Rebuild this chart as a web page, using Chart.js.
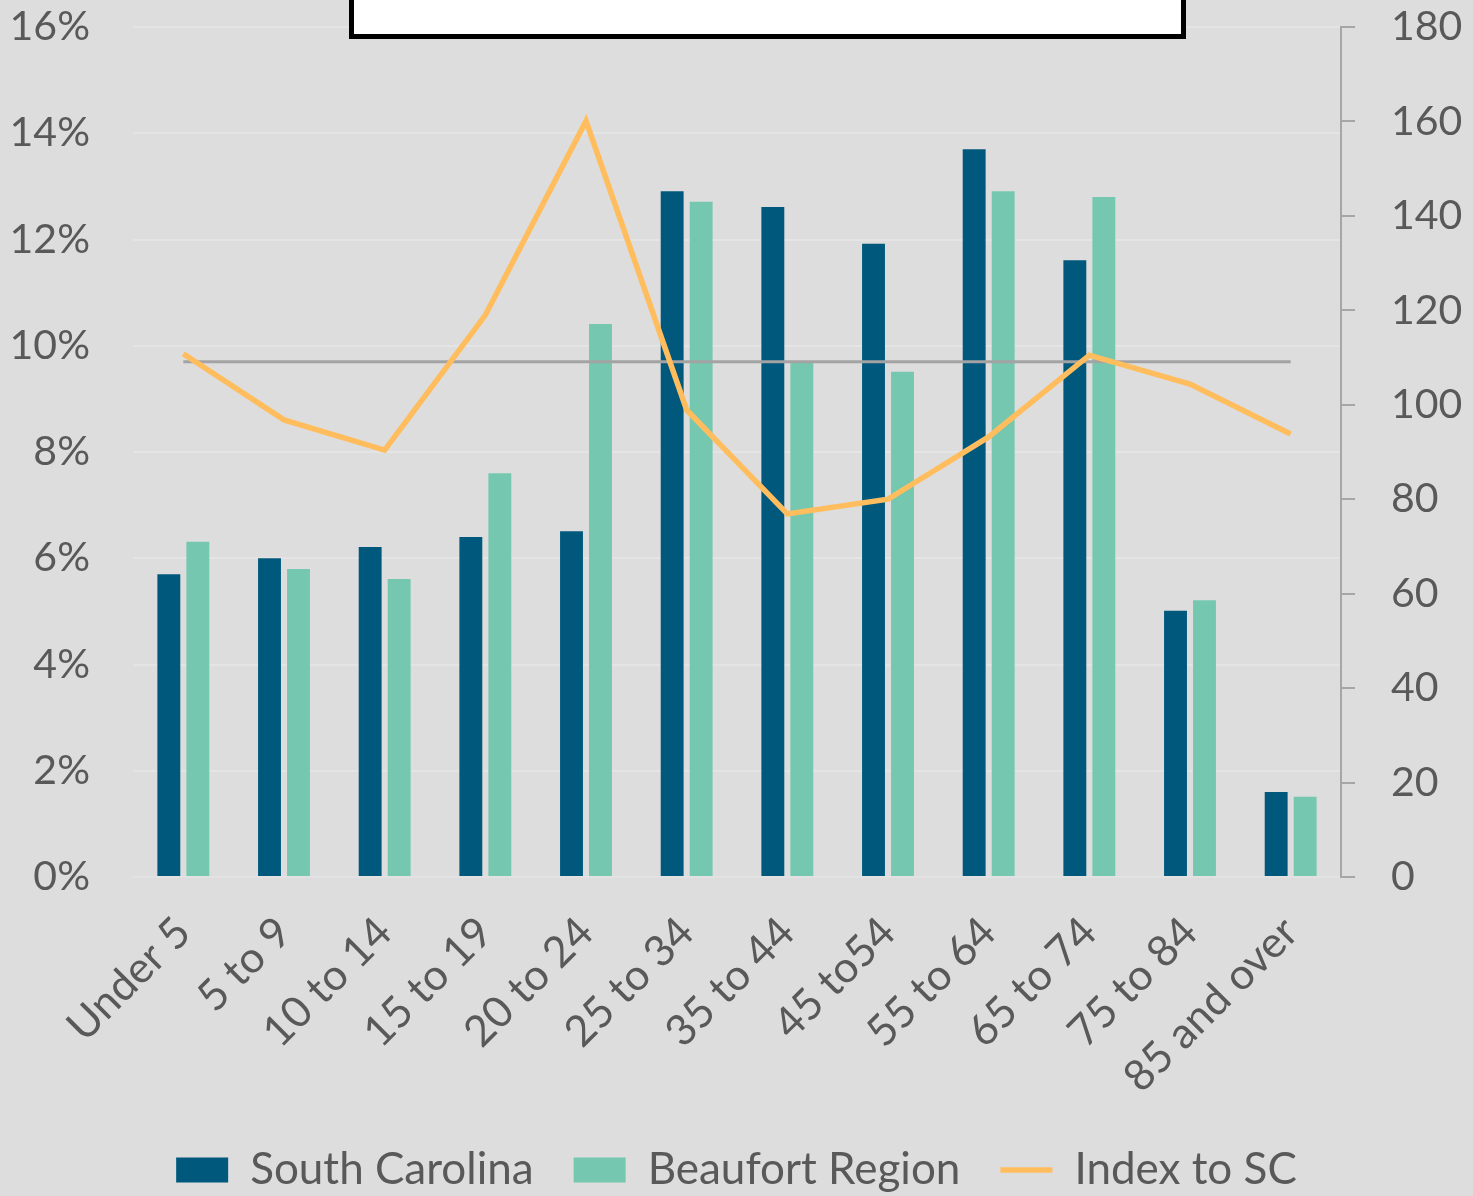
<!DOCTYPE html>
<html>
<head>
<meta charset="utf-8">
<script src="https://cdn.jsdelivr.net/npm/chart.js@4.4.1/dist/chart.umd.min.js"></script>
<style>
  html, body { margin: 0; padding: 0; background: #dddddd; }
  #wrap { position: relative; width: 1473px; height: 1196px; overflow: hidden; }
  #titleBox {
    position: absolute; left: 349px; top: -12px; width: 827px; height: 41px;
    background: #fff; border: 5px solid #000;
  }
</style>
</head>
<body>
<div id="wrap">
  <canvas id="Chart1" width="1473" height="1196"></canvas>
  <div id="titleBox"></div>
</div>
<script>
var categories = ['Under 5', '5 to 9', '10 to 14', '15 to 19', '20 to 24', '25 to 34',
  '35 to 44', '45 to54', '55 to 64', '65 to 74', '75 to 84', '85 and over'];

// percent of population
var southCarolina = [5.70, 6.00, 6.21, 6.40, 6.51, 12.91, 12.61, 11.92, 13.70, 11.61, 5.01, 1.60];
var beaufortRegion = [6.31, 5.80, 5.61, 7.60, 10.41, 12.71, 9.69, 9.51, 12.91, 12.80, 5.21, 1.51];

// index, right axis
var indexToSC = [110.8, 96.8, 90.4, 119.0, 160.1, 98.9, 76.9, 80.0, 93.2, 110.5, 104.4, 93.8];

// grey reference line, left axis
var referenceLine = [9.7, 9.7, 9.7, 9.7, 9.7, 9.7, 9.7, 9.7, 9.7, 9.7, 9.7, 9.7];

var leftTicks = { min: 0, max: 16, step: 2 };
var rightTicks = { min: 0, max: 180, step: 20 };

var textColor = '#595959';
var fontFamily = 'Lato, "Open Sans", sans-serif';

// keep the plot area exactly where the axes are asked to be
const noPad = (scale) => { scale.paddingTop = 0; scale.paddingBottom = 0; };

const createChart1 = () => {
  var ctx = document.getElementById('Chart1');
  var Chart1 = new Chart(ctx, {
    type: 'bar',
    data: {
      labels: categories,
      datasets: [{
        label: 'South Carolina',
        data: southCarolina,
        backgroundColor: '#00597c',
        yAxisID: 'y',
        order: 4,
        pointStyle: 'rect',
        categoryPercentage: 0.576,
        barPercentage: 0.79
      }, {
        label: 'Beaufort Region',
        data: beaufortRegion,
        backgroundColor: '#75c8af',
        yAxisID: 'y',
        order: 5,
        pointStyle: 'rect',
        categoryPercentage: 0.576,
        barPercentage: 0.79
      }, {
        type: 'line',
        label: 'Index to SC',
        data: indexToSC,
        borderColor: '#ffbd5e',
        backgroundColor: '#ffbd5e',
        borderWidth: 5.5,
        pointRadius: 0,
        tension: 0,
        yAxisID: 'y1',
        order: 1,
        pointStyle: 'line'
      }, {
        type: 'line',
        label: 'ref',
        data: referenceLine,
        borderColor: '#a3a3a3',
        borderWidth: 3,
        pointRadius: 0,
        yAxisID: 'y',
        order: 2
      }]
    },
    options: {
      responsive: false,
      animation: false,
      layout: { padding: { top: 27, left: 0, right: 0, bottom: -6 } },
      plugins: {
        tooltip: { enabled: false },
        legend: {
          position: 'bottom',
          labels: {
            usePointStyle: true,
            pointStyleWidth: 52,
            boxWidth: 52,
            boxHeight: 25,
            color: textColor,
            padding: 40,
            font: { family: fontFamily, size: 44 },
            filter: (item) => item.text !== 'ref',
            sort: (a, b) => a.datasetIndex - b.datasetIndex
          }
        }
      },
      scales: {
        x: {
          grid: { display: false },
          border: { display: true, color: '#e2e2e2', width: 2 },
          ticks: {
            color: textColor,
            font: { family: fontFamily, size: 43 },
            minRotation: 45,
            maxRotation: 45,
            padding: 22,
            autoSkip: false
          },
          afterFit: (scale) => { scale.height = 231; }
        },
        y: {
          position: 'left',
          min: leftTicks.min,
          max: leftTicks.max,
          grid: { color: '#e4e4e4', lineWidth: 2, drawTicks: false },
          border: { display: false },
          ticks: {
            stepSize: leftTicks.step,
            color: textColor,
            padding: 43,
            font: { family: fontFamily, size: 41 },
            callback: (v) => v + '%'
          },
          afterFit: (scale) => { scale.width = 133; noPad(scale); }
        },
        y1: {
          position: 'right',
          min: rightTicks.min,
          max: rightTicks.max,
          grid: { drawOnChartArea: false, drawTicks: true, tickLength: 14, color: '#a6a6a6', lineWidth: 2 },
          border: { display: true, color: '#a6a6a6', width: 2 },
          ticks: {
            stepSize: rightTicks.step,
            color: textColor,
            padding: 36,
            font: { family: fontFamily, size: 41 }
          },
          afterFit: (scale) => { scale.width = 132; noPad(scale); }
        }
      }
    }
  });
}

createChart1();
</script>
</body>
</html>
